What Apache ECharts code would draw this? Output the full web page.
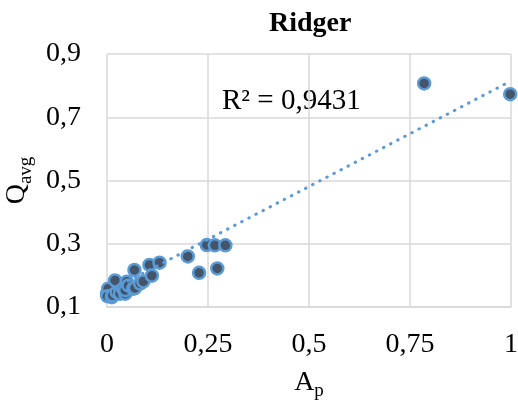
<!DOCTYPE html>
<html>
<head>
<meta charset="utf-8">
<script src="https://cdn.jsdelivr.net/npm/echarts@6/dist/echarts.min.js"></script>
<style>
  html, body { margin: 0; padding: 0; background: #fff; }
  #chart-container { width: 518px; height: 401px; }
</style>
</head>
<body>
<div id="chart-container"></div>
<script>
// values
var apValues = [0.000, 0.003, 0.001, 0.012, 0.014, 0.024, 0.020, 0.032, 0.040, 0.045, 0.045,
  0.049, 0.053, 0.065, 0.068, 0.069, 0.082, 0.090, 0.105, 0.111, 0.130,
  0.200, 0.228, 0.247, 0.267, 0.273, 0.293, 0.785, 0.998];
var qValues = [0.142, 0.158, 0.134, 0.131, 0.137, 0.147, 0.184, 0.142, 0.158, 0.142, 0.153,
  0.180, 0.168, 0.158, 0.217, 0.160, 0.174, 0.181, 0.233, 0.199, 0.240,
  0.260, 0.208, 0.296, 0.295, 0.222, 0.295, 0.807, 0.773];
var xTicks = [0, 0.25, 0.5, 0.75, 1];
var yTicks = [0.1, 0.3, 0.5, 0.7, 0.9];
var trendIntercept = 0.147;
var trendSlope = 0.668;
var r2Label = 'R² = 0,9431';

var serif = '"Liberation Serif", "Times New Roman", serif';

var points = apValues.map(function (x, i) { return [x, qValues[i]]; });
var trend = [xTicks[0], xTicks[xTicks.length - 1]].map(function (x) {
  return [x, trendIntercept + trendSlope * x];
});

var dom = document.getElementById('chart-container');
var myChart = echarts.init(dom, null, { renderer: 'canvas' });

var gridLine = { show: true, lineStyle: { color: '#d9d9d9', width: 1.5 } };
var nameRich = {
  a: { fontFamily: serif, fontSize: 28, lineHeight: 28, verticalAlign: 'top', color: '#000' },
  s: { fontFamily: serif, fontSize: 19, lineHeight: 19, padding: [18, 0, 0, 0], color: '#000' }
};

var option = {
  backgroundColor: '#fff',
  animation: false,
  title: {
    text: 'Ridger',
    left: 264,
    top: 5,
    textStyle: { fontFamily: serif, fontSize: 28, fontWeight: 'bold', color: '#000' }
  },
  grid: { left: 107, right: 7, top: 54, bottom: 94, outerBoundsMode: 'none', containLabel: false },
  xAxis: {
    type: 'value',
    min: xTicks[0],
    max: xTicks[xTicks.length - 1],
    interval: 0.25,
    axisLine: { show: true, lineStyle: { color: '#d9d9d9', width: 1.5 } },
    axisTick: { show: false },
    splitLine: gridLine,
    axisLabel: {
      margin: 24,
      fontFamily: serif,
      fontSize: 28,
      color: '#000',
      formatter: function (v) { return String(Math.round(v * 100) / 100).replace('.', ','); }
    },
    name: '{a|A}{s|p}',
    nameLocation: 'middle',
    nameGap: 51,
    nameTextStyle: { rich: nameRich }
  },
  yAxis: {
    type: 'value',
    min: yTicks[0],
    max: yTicks[yTicks.length - 1],
    interval: 0.2,
    axisLine: { show: false },
    axisTick: { show: false },
    splitLine: gridLine,
    axisLabel: {
      margin: 26,
      fontFamily: serif,
      fontSize: 28,
      color: '#000',
      formatter: function (v) { return v.toFixed(1).replace('.', ','); }
    },
    name: '{a|Q}{s|avg}',
    nameLocation: 'middle',
    nameGap: 66,
    nameRotate: 90,
    nameTextStyle: { rich: nameRich }
  },
  graphic: [{
    type: 'text',
    left: 222,
    top: 87,
    style: { text: r2Label, fontFamily: serif, fontSize: 29, fill: '#000' }
  }],
  series: [{
    name: 'Ridger',
    type: 'scatter',
    data: points,
    symbolSize: 12,
    itemStyle: { color: '#44546a', borderColor: '#5b9bd5', borderWidth: 2.5, opacity: 1 }
  }, {
    name: 'Linear trend',
    type: 'line',
    data: trend,
    showSymbol: false,
    z: 5,
    lineStyle: { color: '#5b9bd5', width: 3, type: [0.5, 7.5], cap: 'round' }
  }]
};

myChart.setOption(option);
window.addEventListener('resize', myChart.resize);
</script>
</body>
</html>
